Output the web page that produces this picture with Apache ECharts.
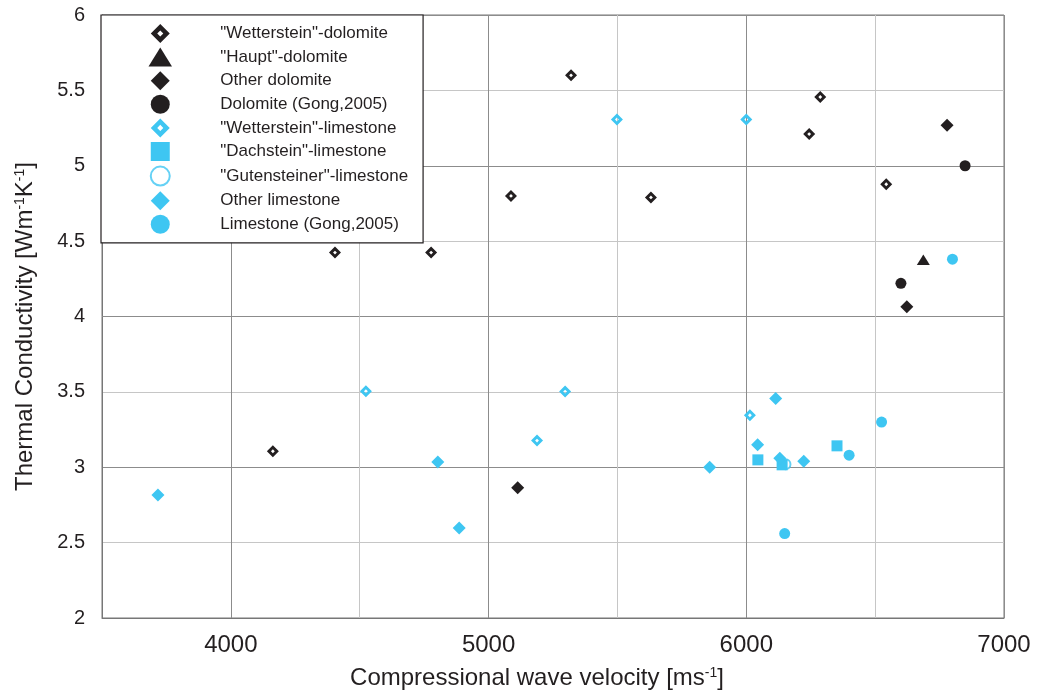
<!DOCTYPE html>
<html>
<head>
<meta charset="utf-8">
<script src="https://cdn.jsdelivr.net/npm/echarts@6/dist/echarts.min.js"></script>
<style>
  html, body { margin: 0; padding: 0; background: #ffffff; }
  #chart { width: 1037px; height: 695px; }
</style>
</head>
<body>
<div id="chart"></div>
<script>
// Measured samples: [P-wave velocity (m/s), thermal conductivity (W m-1 K-1)]
const wettersteinDolomite = [[5320, 5.60], [6287, 5.456], [6244, 5.21], [5087, 4.80], [5630, 4.79],
                             [6543, 4.877], [4404, 4.424], [4777, 4.424], [4163, 3.106]];
const hauptDolomite = [[6687, 4.377]];
const otherDolomite = [[6779, 5.268], [6623, 4.064], [5113, 2.864]];
const dolomiteGong = [[6849, 5.0], [6600, 4.22]];
const wettersteinLimestone = [[5498, 5.307], [6000, 5.307], [4524, 3.504], [5297, 3.502],
                              [5188, 3.177], [6014, 3.345]];
const dachsteinLimestone = [[6045, 3.049], [6352, 3.142], [6139, 3.016]];
const gutensteinerLimestone = [[6152, 3.02]];
const otherLimestone = [[6114, 3.456], [6044, 3.15], [6130, 3.06], [6223, 3.04], [5858, 3.0],
                        [4803, 3.035], [4886, 2.597], [3717, 2.816]];
const limestoneGong = [[6800, 4.38], [6525, 3.30], [6399, 3.08], [6149, 2.56]];

const seriesNames = [
  '"Wetterstein"-dolomite', '"Haupt"-dolomite', 'Other dolomite', 'Dolomite (Gong,2005)',
  '"Wetterstein"-limestone', '"Dachstein"-limestone', '"Gutensteiner"-limestone',
  'Other limestone', 'Limestone (Gong,2005)'
];

const xRange = [3500, 7000];
const yRange = [2, 6];

const DARK = '#231f20';
const CYAN = '#3ec6f2';
const TEXT = '#231f20';

// marker shapes as paths so the legend keeps their proportions
const OPEN_DIAMOND = 'path://M0,-10L10,0L0,10L-10,0Z M0,-3.2L-3.2,0L0,3.2L3.2,0Z';
const DIAMOND = 'path://M0,-10L10,0L0,10L-10,0Z';
const SQUARE = 'path://M0,0L10,0L10,10L0,10Z';
const TRIANGLE = 'path://M6.5,0L13,10.5L0,10.5Z';

function scatter(name, data, symbol, size, color, extra) {
  return Object.assign({
    name: name,
    type: 'scatter',
    data: data,
    symbol: symbol,
    symbolSize: size,
    itemStyle: { color: color, opacity: 1 },
    emphasis: { disabled: true }
  }, extra || {});
}

const chart = echarts.init(document.getElementById('chart'), null, { renderer: 'canvas' });

chart.setOption({
  backgroundColor: '#ffffff',
  animation: false,
  textStyle: { fontFamily: '"Liberation Sans", Arial, Helvetica, sans-serif' },
  grid: {
    left: 102, right: 33, top: 15, bottom: 76,
    show: true, borderColor: '#777777', borderWidth: 1, backgroundColor: 'transparent'
  },
  legend: {
    orient: 'vertical',
    left: 101, top: 15,
    data: seriesNames,
    itemWidth: 110, itemHeight: 19, itemGap: 4.6,
    padding: [9, 15, 9, 47.5],
    backgroundColor: '#ffffff',
    borderColor: DARK, borderWidth: 1.2,
    textStyle: { fontSize: 17, color: TEXT },
    selectedMode: false,
    z: 10
  },
  xAxis: {
    type: 'value',
    min: xRange[0], max: xRange[1], interval: 500,
    name: '{n|Compressional wave velocity [ms}{s|-1}{n|]}',
    nameLocation: 'middle', nameGap: 48,
    nameTextStyle: {
      padding: [0, 32, 0, 0],
      rich: {
        n: { fontSize: 24, color: TEXT, lineHeight: 24 },
        s: { fontSize: 14, color: TEXT, lineHeight: 14, verticalAlign: 'top' }
      }
    },
    axisLine: { show: true, lineStyle: { color: '#777777', width: 1 } },
    axisTick: { show: false },
    axisLabel: {
      fontSize: 24, color: TEXT, margin: 15,
      formatter: v => (v % 1000 === 0 ? String(v) : '')
    },
    splitLine: { show: true, lineStyle: { color: ['#c6c6c6', '#8c8c8c'], width: 1 } }
  },
  yAxis: {
    type: 'value',
    min: yRange[0], max: yRange[1], interval: 0.5,
    name: '{n|Thermal Conductivity [Wm}{s|-1}{n|K}{s|-1}{n|]}',
    nameLocation: 'middle', nameGap: 65, nameRotate: 90,
    nameTextStyle: {
      padding: [0, 20, 0, 0],
      rich: {
        n: { fontSize: 24, color: TEXT, lineHeight: 24 },
        s: { fontSize: 14, color: TEXT, lineHeight: 14, verticalAlign: 'top' }
      }
    },
    axisLine: { show: true, lineStyle: { color: '#777777', width: 1 } },
    axisTick: { show: false },
    axisLabel: { fontSize: 20, color: TEXT, margin: 17 },
    splitLine: { show: true, lineStyle: { color: ['#8c8c8c', '#c6c6c6'], width: 1 } }
  },
  series: [
    scatter(seriesNames[0], wettersteinDolomite, OPEN_DIAMOND, 12, DARK),
    scatter(seriesNames[1], hauptDolomite, TRIANGLE, [13, 10.5], DARK),
    scatter(seriesNames[2], otherDolomite, DIAMOND, 13, DARK),
    scatter(seriesNames[3], dolomiteGong, 'circle', 11, DARK),
    scatter(seriesNames[4], wettersteinLimestone, OPEN_DIAMOND, 12, CYAN),
    scatter(seriesNames[5], dachsteinLimestone, SQUARE, 11, CYAN),
    scatter(seriesNames[6], gutensteinerLimestone, 'emptyCircle', 10, CYAN,
            { itemStyle: { color: CYAN, borderColor: CYAN, borderWidth: 1.5 }, z: 1 }),
    scatter(seriesNames[7], otherLimestone, DIAMOND, 13, CYAN),
    scatter(seriesNames[8], limestoneGong, 'circle', 11, CYAN)
  ]
});
</script>
</body>
</html>
